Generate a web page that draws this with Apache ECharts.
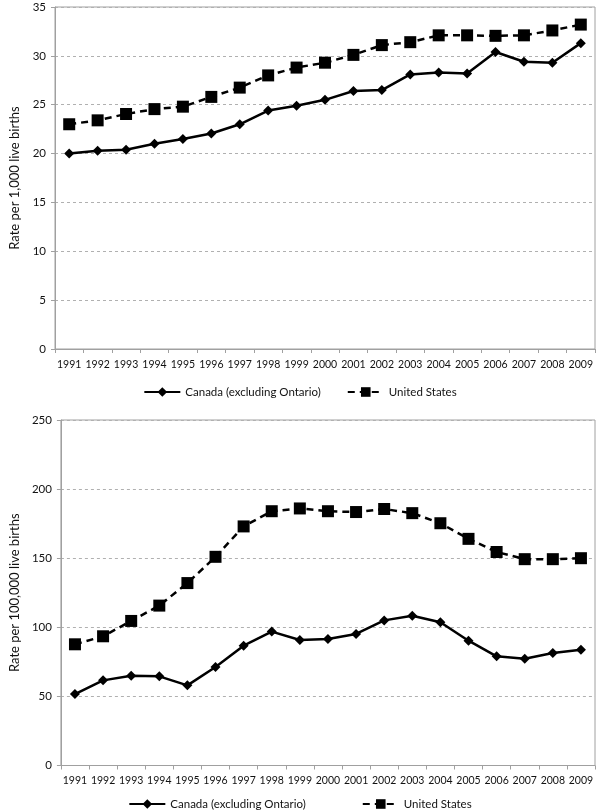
<!DOCTYPE html>
<html><head><meta charset="utf-8">
<script src="https://cdn.jsdelivr.net/npm/echarts@6/dist/echarts.min.js"></script>
<style>html,body{margin:0;padding:0;background:#fff}#c{width:600px;height:812px}</style>
</head><body><div id="c"></div>
<script>
const years = ['1991','1992','1993','1994','1995','1996','1997','1998','1999','2000','2001','2002','2003','2004','2005','2006','2007','2008','2009'];
const canadaTop = [20.0,20.3,20.4,21.0,21.5,22.05,23.0,24.4,24.9,25.5,26.4,26.5,28.1,28.3,28.2,30.4,29.4,29.3,31.3];
const usTop = [23.0,23.4,24.05,24.55,24.8,25.8,26.75,28.0,28.8,29.3,30.1,31.1,31.4,32.1,32.1,32.05,32.1,32.6,33.2];
const canadaBottom = [51.7,61.6,65.0,64.5,58.0,71.3,86.7,96.9,90.8,91.5,95.2,105.0,108.4,103.6,90.3,79.0,77.3,81.4,83.8];
const usBottom = [87.7,93.5,104.6,115.7,132.0,151.0,173.0,184.0,186.0,184.0,183.4,185.6,182.6,175.3,164.0,154.5,149.3,149.3,150.0];
const yTitleTop = 'Rate per 1,000 live births';
const yTitleBottom = 'Rate per 100,000 live births';
const nameCanada = 'Canada (excluding Ontario)';
const nameUS = 'United States';

const FONT = 'Lato';
const chart = echarts.init(document.getElementById('c'), null, {renderer:'canvas'});
function xAxis(gi){
  return {type:'category', gridIndex:gi, data:years, boundaryGap:true,
    axisLine:{lineStyle:{color:'#a0a0a0', width:1}},
    axisTick:{show:true, length:4, lineStyle:{color:'#a0a0a0'}},
    axisLabel:{color:'#111', fontFamily:FONT, fontSize:10.5, margin:10, interval:0}};
}
function yAxis(gi, max, interval, title){
  return {type:'value', gridIndex:gi, min:0, max:max, interval:interval,
    name:title, nameLocation:'middle', nameGap:34, nameTextStyle:{color:'#111', fontFamily:FONT, fontSize:13},
    axisLine:{show:true, lineStyle:{color:'#a0a0a0', width:1}},
    axisTick:{show:true, length:4, lineStyle:{color:'#a0a0a0'}},
    axisLabel:{color:'#111', fontFamily:FONT, fontSize:11.5, margin:9},
    splitLine:{show:true, lineStyle:{color:'#b0b0b0', type:[3,3], width:1}}};
}
function canadaSeries(idx, data){
  return {name:nameCanada, type:'line', xAxisIndex:idx, yAxisIndex:idx, data:data,
    symbol:'diamond', symbolSize:10, lineStyle:{color:'#000', width:2.5}, itemStyle:{color:'#000'}, animation:false};
}
function usSeries(idx, data){
  return {name:nameUS, type:'line', xAxisIndex:idx, yAxisIndex:idx, data:data,
    symbol:'rect', symbolSize:12, lineStyle:{color:'#000', width:2.5, type:[7,5]}, itemStyle:{color:'#000'}, animation:false};
}
chart.setOption({
  backgroundColor:'#fff',
  grid:[
    {left:50, right:5, top:7, height:342, show:true, borderColor:'#a0a0a0', borderWidth:1},
    {left:50, right:5, top:420, height:345.5, show:true, borderColor:'#a0a0a0', borderWidth:1}
  ],
  legend:[
    {top:381, left:'center', itemGap:26, itemWidth:36, itemHeight:12, textStyle:{fontFamily:FONT, fontSize:11.5, color:'#111'}, data:[nameCanada, nameUS]},
    {top:793, left:'center', itemGap:56, itemWidth:36, itemHeight:12, textStyle:{fontFamily:FONT, fontSize:11.5, color:'#111'}, data:[nameCanada, nameUS]}
  ],
  xAxis:[xAxis(0), xAxis(1)],
  yAxis:[yAxis(0,35,5,yTitleTop), yAxis(1,250,50,yTitleBottom)],
  series:[canadaSeries(0,canadaTop), usSeries(0,usTop), canadaSeries(1,canadaBottom), usSeries(1,usBottom)]
});
</script></body></html>
